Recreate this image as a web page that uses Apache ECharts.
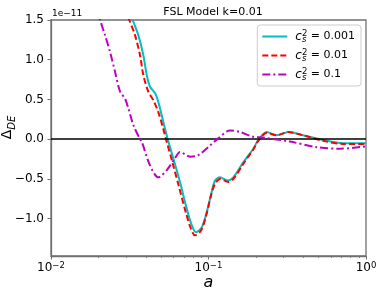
<!DOCTYPE html>
<html>
<head>
<meta charset="utf-8">
<script src="https://cdn.jsdelivr.net/npm/echarts@6/dist/echarts.min.js"></script>
<style>html,body{margin:0;padding:0;background:#fff}#c{width:380px;height:289px}</style>
</head>
<body>
<div id="c"></div>
<script>
// ---- data (values in units of 1e-11) ----
const seriesNames = ['0.001', '0.01', '0.1'];
const aCyan = [0.0311, 0.03302, 0.03584, 0.03855, 0.04052, 0.04253, 0.04575, 0.04802, 0.05045, 0.05294, 0.05508, 0.05976, 0.06592, 0.07269, 0.07822, 0.08329, 0.09055, 0.0974, 0.1048, 0.1100, 0.1183, 0.1317, 0.1437, 0.1663, 0.1925, 0.2071, 0.2342, 0.2710, 0.3212, 0.3980, 0.5333, 0.7145, 1.0];
const yCyan = [1.64, 1.5, 1.31, 1.06, 0.81, 0.66, 0.58, 0.47, 0.30, 0.13, 0.0, -0.24, -0.54, -0.87, -1.08, -1.17, -1.11, -0.92, -0.66, -0.52, -0.48, -0.52, -0.48, -0.29, -0.12, -0.01, 0.09, 0.05, 0.09, 0.05, -0.01, -0.05, -0.05];
const aRed = [0.02951, 0.03142, 0.03415, 0.03673, 0.03855, 0.04148, 0.04463, 0.04802, 0.05164, 0.05372, 0.05864, 0.06496, 0.07195, 0.07742, 0.08208, 0.08963, 0.09641, 0.1037, 0.1100, 0.1183, 0.1336, 0.1452, 0.1663, 0.1925, 0.2071, 0.2342, 0.2710, 0.3212, 0.3980, 0.5333, 0.7145, 1.0];
const yRed = [1.64, 1.5, 1.31, 1.06, 0.81, 0.60, 0.49, 0.34, 0.13, 0.0, -0.27, -0.60, -0.93, -1.13, -1.21, -1.15, -0.97, -0.71, -0.56, -0.50, -0.54, -0.49, -0.31, -0.13, -0.02, 0.08, 0.05, 0.09, 0.05, -0.02, -0.06, -0.06];
const aMag = [0.01931, 0.02047, 0.02202, 0.02369, 0.02549, 0.02743, 0.02951, 0.03096, 0.03331, 0.03673, 0.03767, 0.04253, 0.04802, 0.05428, 0.06128, 0.06592, 0.0763, 0.08614, 0.1022, 0.1154, 0.1369, 0.1585, 0.1925, 0.2218, 0.3293, 0.4865, 0.684, 1.0];
const yMag = [1.65, 1.5, 1.31, 1.10, 0.85, 0.60, 0.51, 0.39, 0.18, 0.0, -0.03, -0.33, -0.48, -0.39, -0.24, -0.16, -0.22, -0.20, -0.08, 0.01, 0.11, 0.09, 0.03, 0.02, -0.03, -0.10, -0.12, -0.09];
const yTicks = [-1.0, -0.5, 0.0, 0.5, 1.0, 1.5];
const xMinorTicks = [2,3,4,5,6,7,8,9].map(m => Math.log10(m) - 2).concat([2,3,4,5,6,7,8,9].map(m => Math.log10(m) - 1));

function pairs(a, y) { return a.map((v, i) => [v, y[i]]); }
const FONT = 'DejaVu Sans';
const SPINE = '#707070';

const chart = echarts.init(document.getElementById('c'), null, {renderer: 'canvas'});
chart.setOption({
  animation: false,
  textStyle: {fontFamily: FONT},
  title: [
    {text: 'FSL Model k=0.01', left: 208, top: 2, textAlign: 'center', textStyle: {fontFamily: FONT, fontSize: 11, fontWeight: 'normal', color: '#000'}},
    {text: '1e\u221211', left: 52, top: 9, padding: 0, textStyle: {fontFamily: FONT, fontSize: 9, fontWeight: 'normal', color: '#000'}}
  ],
  graphic: [{
    type: 'text', x: 7, y: 127.5, rotation: Math.PI / 2, silent: true,
    style: {
      text: '{d|\u0394}{s|DE}', align: 'center', verticalAlign: 'middle',
      rich: {
        d: {fontFamily: FONT, fontSize: 14, fill: '#000', lineHeight: 16},
        s: {fontFamily: FONT, fontSize: 10, fontStyle: 'italic', fill: '#000', verticalAlign: 'bottom', lineHeight: 20}
      }
    }
  }],
  grid: {left: 51, right: 14, top: 20, bottom: 33, containLabel: false, outerBoundsMode: 'none',
    show: true, borderColor: SPINE, borderWidth: 1.3, backgroundColor: 'transparent'},
  legend: {
    orient: 'vertical', right: 19, top: 25,
    backgroundColor: '#fff', borderColor: '#ccc', borderWidth: 1, borderRadius: 3,
    padding: [4, 6, 4, 4], itemWidth: 25, itemHeight: 12, itemGap: 4,
    itemStyle: {color: 'rgba(0,0,0,0)', borderColor: 'rgba(0,0,0,0)', borderWidth: 0},
    data: seriesNames,
    formatter: n => '{c|c}{s|s}{p|2}{t| = ' + n + '}',
    textStyle: {
      fontFamily: FONT, color: '#000',
      rich: {
        c: {fontFamily: FONT, fontSize: 12, fontStyle: 'italic', padding: [0, 0, 0, 3], lineHeight: 15},
        s: {fontFamily: FONT, fontSize: 8.5, fontStyle: 'italic', width: 0, verticalAlign: 'bottom', lineHeight: 15},
        p: {fontFamily: FONT, fontSize: 8.5, verticalAlign: 'top', lineHeight: 15},
        t: {fontFamily: FONT, fontSize: 11, lineHeight: 15}
      }
    }
  },
  xAxis: [
    {
      type: 'log', logBase: 10, min: 0.01, max: 1, splitNumber: 2,
      name: 'a', nameLocation: 'middle', nameGap: 19, nameMoveOverlap: false,
      nameTextStyle: {fontFamily: FONT, fontSize: 16, fontStyle: 'italic', color: '#000'},
      axisLine: {show: true, onZero: false, lineStyle: {color: SPINE, width: 1.3}},
      axisTick: {show: true, inside: false, length: 3.5, lineStyle: {color: SPINE, width: 1}},
      splitLine: {show: false},
      axisLabel: {
        margin: 5,
        formatter: v => { const e = Math.round(Math.log10(v)); return '{b|10}{e|' + (e < 0 ? '\u2212' + (-e) : e) + '}'; },
        rich: {
          b: {fontFamily: FONT, fontSize: 12, color: '#000', lineHeight: 14},
          e: {fontFamily: FONT, fontSize: 8.5, color: '#000', verticalAlign: 'top', lineHeight: 14}
        }
      }
    },
    {
      type: 'value', min: -2, max: 0, position: 'bottom',
      axisLine: {show: false, onZero: false}, axisLabel: {show: false}, splitLine: {show: false},
      axisTick: {show: true, inside: false, length: 2, customValues: xMinorTicks, lineStyle: {color: SPINE, width: 0.8}}
    }
  ],
  yAxis: {
    type: 'value', min: -1.47, max: 1.5,
    axisLine: {show: true, onZero: false, lineStyle: {color: SPINE, width: 1.3}},
    axisTick: {show: true, inside: false, length: 3.5, customValues: yTicks, lineStyle: {color: SPINE, width: 1}},
    splitLine: {show: false},
    axisLabel: {customValues: yTicks, margin: 7, fontFamily: FONT, fontSize: 12, color: '#000',
      formatter: v => (v < 0 ? '\u2212' : '') + Math.abs(v).toFixed(1)}
  },
  series: [
    {
      name: seriesNames[0], type: 'line', data: pairs(aCyan, yCyan), smooth: 0.3, showSymbol: false, symbol: 'none', clip: true,
      lineStyle: {color: '#00BFBF', width: 2}, itemStyle: {color: '#00BFBF'}, z: 3,
      markLine: {silent: true, symbol: ['none', 'none'], label: {show: false}, data: [{yAxis: 0}],
        lineStyle: {color: '#000', width: 1.5, type: 'solid'}}
    },
    {
      name: seriesNames[1], type: 'line', data: pairs(aRed, yRed), smooth: 0.3, showSymbol: false, symbol: 'none', clip: true,
      lineStyle: {color: '#FF0000', width: 2, type: [6, 3]}, itemStyle: {color: '#FF0000'}, z: 4
    },
    {
      name: seriesNames[2], type: 'line', data: pairs(aMag, yMag), smooth: 0.3, showSymbol: false, symbol: 'none', clip: true,
      lineStyle: {color: '#BF00BF', width: 2, type: [8, 3, 2, 3]}, itemStyle: {color: '#BF00BF'}, z: 5
    }
  ]
});
</script>
</body>
</html>
